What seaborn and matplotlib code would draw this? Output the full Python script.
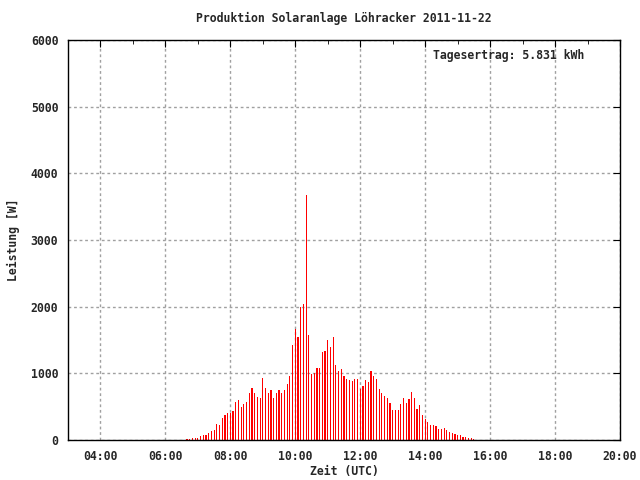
import matplotlib
matplotlib.use("Agg")
import matplotlib.pyplot as plt
from matplotlib.ticker import MultipleLocator, FuncFormatter
import seaborn as sns
import numpy as np
import pandas as pd

sns.set_style("white")
plt.rcParams['font.family'] = ['DejaVu Sans Mono']
plt.rcParams['font.weight'] = 'bold'

title = "Produktion Solaranlage Löhracker 2011-11-22"
ertrag = "Tagesertrag: 5.831 kWh"

# 5-minute samples from 06:40 UTC
start = "2011-11-22 06:40"
interval_min = 5
watts = [
    15, 20, 30, 30, 30, 60, 75, 75, 105, 135, 150, 240, 225, 330, 375, 405,
    400, 435, 570, 600, 495, 540, 570, 705, 780, 705, 645, 630, 930, 780, 705, 750, 630, 705,
    750, 700, 750, 840, 960, 1425, 1665, 1545, 1995, 2040, 3670, 1575, 990, 1005, 1080, 1080, 1320, 1335,
    1500, 1395, 1545, 1125, 1035, 1065, 960, 915, 900, 885, 915, 915, 765, 810, 900, 870, 1035, 960,
    915, 765, 705, 660, 630, 555, 450, 450, 450, 540, 630, 555, 615, 720, 630, 465, 525,
    375, 315, 270, 225, 225, 210, 165, 165, 180, 150, 120, 105, 90, 75, 75, 45, 45, 30, 30, 15,
]

times = pd.date_range(start, periods=len(watts), freq=f"{interval_min}min")
df = pd.DataFrame({"stunde": times.hour + times.minute / 60.0, "leistung": watts})

fig = plt.figure(figsize=(6.4, 4.8), dpi=100)
ax = fig.add_axes([68 / 640, 40 / 480, 552 / 640, 400 / 480])

bw = interval_min / 60.0
first = df.stunde.iloc[0] - bw / 2
sns.histplot(data=df, x="stunde", weights="leistung", binwidth=bw,
             binrange=(first, first + bw * len(watts)), shrink=0.45,
             color="red", alpha=1, linewidth=0, antialiased=False, ax=ax)

fs = 8.3
ax.set_xlim(3, 20)
ax.set_ylim(0, 6000)
ax.xaxis.set_major_locator(MultipleLocator(2))
ax.xaxis.set_minor_locator(MultipleLocator(1))
ax.yaxis.set_major_locator(MultipleLocator(1000))
ax.xaxis.set_major_formatter(FuncFormatter(lambda v, p: f"{int(v):02d}:00"))
ax.tick_params(which="both", direction="in", top=True, right=True,
               labelsize=fs, color="black")
ax.tick_params(which="major", length=5, pad=7)
ax.tick_params(which="minor", length=3)
ax.grid(True, which="major", color="#a0a0a0", linestyle=(0, (2, 2)), linewidth=1)
ax.set_axisbelow(True)
for s in ax.spines.values():
    s.set_color("black")
    s.set_linewidth(1)

ax.set_xlabel("Zeit (UTC)", fontsize=fs, fontweight="bold")
ax.set_ylabel("Leistung [W]", fontsize=fs, fontweight="bold")
ax.xaxis.set_label_coords(0.5, -0.063)
ax.yaxis.set_label_coords(-0.087, 0.5)
ax.set_title(title, fontsize=fs, fontweight="bold", pad=13)
ax.text(14.25, 5760, ertrag, fontsize=fs, fontweight="bold", va="center", ha="left")

fig.savefig("out.png", dpi=100)
